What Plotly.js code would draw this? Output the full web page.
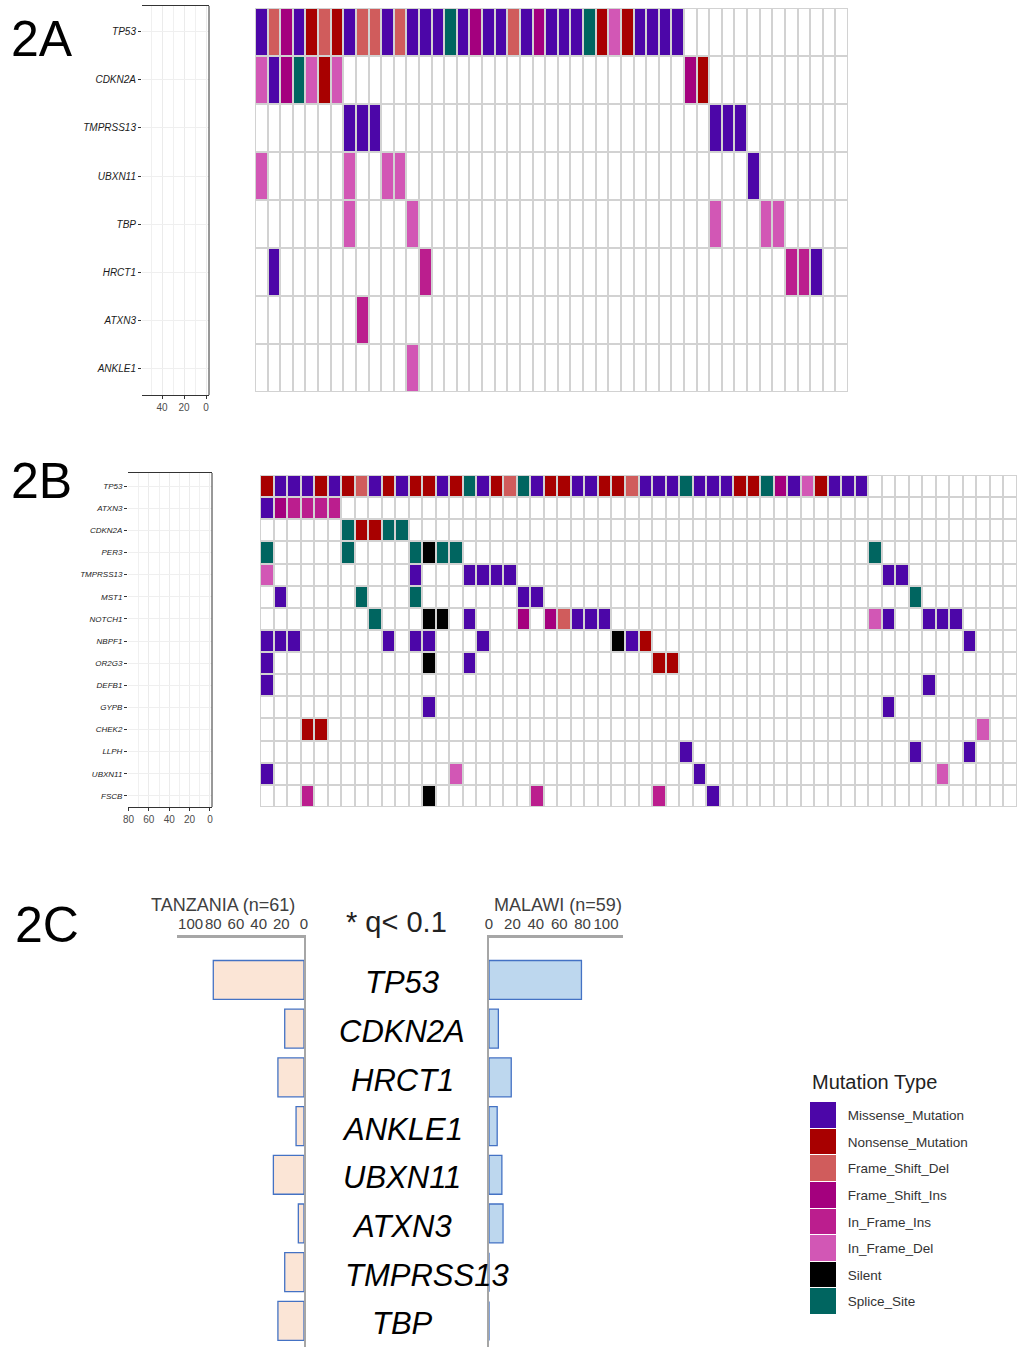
<!DOCTYPE html>
<html><head><meta charset="utf-8">
<script src="https://cdn.plot.ly/plotly-3.0.1.min.js"></script>
<style>html,body{margin:0;padding:0;background:#fff;}#chart{width:1018px;height:1347px;}</style>
</head><body><div id="chart"></div>
<script>
// ---------------- data ----------------
const mutationTypes = ['Missense_Mutation','Nonsense_Mutation','Frame_Shift_Del','Frame_Shift_Ins','In_Frame_Ins','In_Frame_Del','Silent','Splice_Site'];
const typeCodes = ['M','N','F','I','i','d','S','P'];   // '.' = no mutation
const typeColors = ['#4C06A8','#A80000','#D05C5C','#A4007E','#BB1E8E','#D257B5','#000000','#006560'];

// 2A (one character per sample, '|' every 10 samples)
const genesA = ['TP53','CDKN2A','TMPRSS13','UBXN11','TBP','HRCT1','ATXN3','ANKLE1'];
const mutsA = [
  'MFIMNFNMFF|MFMMMPMIMM|FMIMMMPNdN|MMMM......|.......',
  'dMIPdNd...|..........|..........|....IN....|.......',
  '.......MMM|..........|..........|......MMM.|.......',
  'd......d..|dd........|..........|.........M|.......',
  '.......d..|..d.......|..........|......d...|dd.....',
  '.M........|...i......|..........|..........|..iiM..',
  '........i.|..........|..........|..........|.......',
  '..........|..d.......|..........|..........|.......'
];
const sideBarsA = [0,0,0,0,0,0,0,0];
const sideTicksA = [0,20,40];

// 2B
const genesB = ['TP53','ATXN3','CDKN2A','PER3','TMPRSS13','MST1','NOTCH1','NBPF1','OR2G3','DEFB1','GYPB','CHEK2','LLPH','UBXN11','FSCB'];
const mutsB = [
  'NMMMNMNFMN|MNNMNPMNFP|MNNMMNNFMM|MPMMMNNPIM|dNMMM.....|......',
  'MIiiii....|..........|..........|..........|..........|......',
  '......PNNP|P.........|..........|..........|..........|......',
  'P.....P...|.PSPP.....|..........|..........|.....P....|......',
  'd.........|.M...MMMM.|..........|..........|......MM..|......',
  '.M.....P..|.P.......M|M.........|..........|........P.|......',
  '........P.|..SS.M...I|.IFMMM....|..........|.....dM..M|MM....',
  'MMM......M|.MM...M...|......SMN.|..........|..........|..M...',
  'M.........|..S..M....|.........N|N.........|..........|......',
  'M.........|..........|..........|..........|.........M|......',
  '..........|..M.......|..........|..........|......M...|......',
  '...NN.....|..........|..........|..........|..........|...d..',
  '..........|..........|..........|.M........|........M.|..M...',
  'M.........|....d.....|..........|..M.......|..........|d.....',
  '...i......|..S.......|i........i|...M......|..........|......'
];
const sideBarsB = [0,0,0,0,0,0,0,0,0,0,0,0,0,0,0];
const sideTicksB = [0,20,40,60,80];

// 2C
const genesC = ['TP53','CDKN2A','HRCT1','ANKLE1','UBXN11','ATXN3','TMPRSS13','TBP'];
const tanzaniaPct = [80,17,23,7,27,5,17,23];
const malawiPct   = [79,8,19,7,11,12,0,0];
const pctTicks = [0,20,40,60,80,100];

// ---------------- helpers ----------------
const W = 1018, H = 1347;
const FONT = 'Liberation Sans, Arial, sans-serif';
const dX = (a,b) => [a/W, b/W];
const dY = (top,bottom) => [1-bottom/H, 1-top/H];
const pxX = v => v/W, pxY = v => 1 - v/H;

function toZ(rows){
  return rows.map(s => s.replace(/\|/g,'').split('').map(ch => ch === '.' ? 0 : typeCodes.indexOf(ch) + 1));
}
const zA = toZ(mutsA), zB = toZ(mutsB);
const nA = zA[0].length, nB = zB[0].length;
const levelColors = ['#FFFFFF'].concat(typeColors);
const cs = [];
levelColors.forEach((c,k) => { cs.push([k/levelColors.length, c]); cs.push([(k+1)/levelColors.length, c]); });
const sampleIdx = n => Array.from({length:n}, (_,i) => i);

const hm = (z, y, xa, ya, gap) => ({
  type:'heatmap', z:z, x:sampleIdx(z[0].length), y:y, xaxis:xa, yaxis:ya,
  colorscale:cs, zmin:-0.5, zmax:levelColors.length-0.5, showscale:false,
  xgap:gap, ygap:gap, hoverinfo:'skip'
});

const traces = [
  {type:'bar', orientation:'h', x:sideBarsA, y:genesA, xaxis:'x', yaxis:'y', hoverinfo:'skip', marker:{color:'#888'}},
  hm(zA, genesA, 'x2', 'y2', 2),
  {type:'bar', orientation:'h', x:sideBarsB, y:genesB, xaxis:'x3', yaxis:'y3', hoverinfo:'skip', marker:{color:'#888'}},
  hm(zB, genesB, 'x4', 'y4', 2),
  {type:'bar', orientation:'h', x:tanzaniaPct, y:genesC, xaxis:'x5', yaxis:'y5', width:0.8, hoverinfo:'skip',
   marker:{color:'#FBE5D6', line:{color:'#4472C4', width:1.3}}},
  {type:'bar', orientation:'h', x:malawiPct, y:genesC, xaxis:'x6', yaxis:'y6', width:0.8, hoverinfo:'skip',
   marker:{color:'#BDD7EE', line:{color:'#4472C4', width:1.3}}},
  {type:'heatmap', z:mutationTypes.map((t,i)=>[i+1]), x:[0], y:mutationTypes, xaxis:'x7', yaxis:'y7',
   colorscale:cs, zmin:-0.5, zmax:levelColors.length-0.5, showscale:false, ygap:1, hoverinfo:'skip'}
];

const sideX = (dom, anchor, range, ticks, minorTicks) => ({
  domain:dom, anchor:anchor, range:range, showline:true, mirror:true, linecolor:'#333', linewidth:1,
  ticks:'outside', ticklen:3, tickcolor:'#333', tickmode:'array', tickvals:ticks, ticktext:ticks.map(String), tickangle:0,
  tickfont:{size:10, color:'#4D4D4D'}, showgrid:true, gridcolor:'#EBEBEB', gridwidth:1, zeroline:false,
  minor:{tickmode:'array', tickvals:minorTicks, showgrid:true, gridcolor:'#F0F0F0', ticks:''}, fixedrange:true
});
const sideY = (dom, anchor, genes, range, fs) => ({
  domain:dom, anchor:anchor, type:'category', categoryorder:'array', categoryarray:genes, range:range,
  ticks:'outside', ticklen:3, tickcolor:'#333', tickfont:{size:fs, style:'italic', color:'#1a1a1a'},
  showgrid:true, gridcolor:'#EFEFEF', showline:false, zeroline:false, fixedrange:true
});
const hidden = (dom, anchor, range, extra) => Object.assign({domain:dom, anchor:anchor, range:range, visible:false, fixedrange:true}, extra||{});
const pctAxis = (dom, anchor, range) => ({
  domain:dom, anchor:anchor, range:range, side:'top', showline:true, linecolor:'#A6A6A6', linewidth:3,
  tickmode:'array', tickvals:pctTicks, ticktext:pctTicks.map(String), ticks:'', tickangle:0,
  tickfont:{size:15, color:'#404040'}, showgrid:false, zeroline:false, fixedrange:true
});

const layout = {
  width:W, height:H, margin:{l:0,r:0,t:0,b:0}, paper_bgcolor:'#fff', plot_bgcolor:'#fff', showlegend:false,
  font:{family:FONT, color:'#222'}, bargap:0.2,
  // 2A
  xaxis: sideX(dX(142,209), 'y', [58.2,-2.7], sideTicksA, [10,30,50]),
  yaxis: sideY(dY(6,395), 'x', genesA, [7.56,-0.54], 10),
  xaxis2: hidden(dX(255,848), 'y2', [-0.5, nA-0.5]),
  yaxis2: hidden(dY(8,392), 'x2', [genesA.length-0.5, -0.5], {type:'category', categoryorder:'array', categoryarray:genesA}),
  // 2B
  xaxis3: sideX(dX(128,212), 'y3', [80.5,-2], sideTicksB, [10,30,50,70]),
  yaxis3: sideY(dY(473,807), 'x3', genesB, [14.5,-0.59], 8),
  xaxis4: hidden(dX(260,1017), 'y4', [-0.5, nB-0.5]),
  yaxis4: hidden(dY(475,807), 'x4', [genesB.length-0.5, -0.5], {type:'category', categoryorder:'array', categoryarray:genesB}),
  // 2C
  xaxis5: pctAxis(dX(177,304), 'y5', [112,0]),
  yaxis5: {domain:dY(938,1347), anchor:'x5', type:'category', categoryorder:'array', categoryarray:genesC, range:[7.536,-0.862],
           side:'right', showline:true, linecolor:'#A6A6A6', linewidth:2, showticklabels:false, ticks:'', showgrid:false, zeroline:false, fixedrange:true},
  xaxis6: pctAxis(dX(489,623), 'y6', [0,114.5]),
  yaxis6: {domain:dY(938,1347), anchor:'x6', type:'category', categoryorder:'array', categoryarray:genesC, range:[7.536,-0.862],
           side:'left', showline:true, linecolor:'#A6A6A6', linewidth:2, showticklabels:false, ticks:'', showgrid:false, zeroline:false, fixedrange:true},
  // legend swatches
  xaxis7: hidden(dX(810,836), 'y7', [-0.5,0.5]),
  yaxis7: {domain:dY(1102,1315), anchor:'x7', type:'category', categoryorder:'array', categoryarray:mutationTypes, range:[7.5,-0.5],
           side:'right', ticks:'outside', ticklen:8, tickcolor:'rgba(0,0,0,0)', showline:false, showgrid:false, zeroline:false,
           tickfont:{size:13.5, color:'#333'}, fixedrange:true},
  shapes:[
    {type:'rect', xref:'x2 domain', yref:'y2 domain', x0:0, x1:1, y0:0, y1:1, fillcolor:'#D2D2D2', line:{width:0}, layer:'below'},
    {type:'rect', xref:'x4 domain', yref:'y4 domain', x0:0, x1:1, y0:0, y1:1, fillcolor:'#D2D2D2', line:{width:0}, layer:'below'},
    {type:'line', xref:'x domain', yref:'y domain', x0:1, x1:1, y0:0, y1:1, line:{color:'#333', width:1}},
    {type:'line', xref:'x3 domain', yref:'y3 domain', x0:1, x1:1, y0:0, y1:1, line:{color:'#333', width:1}}
  ],
  annotations:[
    {text:'2A', xref:'paper', yref:'paper', x:pxX(9), y:pxY(39), xanchor:'left', yanchor:'middle', showarrow:false, font:{size:50, color:'#000'}},
    {text:'2B', xref:'paper', yref:'paper', x:pxX(9), y:pxY(481), xanchor:'left', yanchor:'middle', showarrow:false, font:{size:50, color:'#000'}},
    {text:'2C', xref:'paper', yref:'paper', x:pxX(13), y:pxY(925), xanchor:'left', yanchor:'middle', showarrow:false, font:{size:50, color:'#000'}},
    {text:'TANZANIA (n=61)', xref:'paper', yref:'paper', x:pxX(223), y:pxY(905), xanchor:'center', yanchor:'middle', showarrow:false, font:{size:18, color:'#404040'}},
    {text:'MALAWI (n=59)', xref:'paper', yref:'paper', x:pxX(558), y:pxY(905), xanchor:'center', yanchor:'middle', showarrow:false, font:{size:18, color:'#404040'}},
    {text:'* q< 0.1', xref:'paper', yref:'paper', x:pxX(396), y:pxY(922), xanchor:'center', yanchor:'middle', showarrow:false, font:{size:29, color:'#222'}},
    {text:'Mutation Type', xref:'paper', yref:'paper', x:pxX(810), y:pxY(1082), xanchor:'left', yanchor:'middle', showarrow:false, font:{size:20, color:'#222'}}
  ].concat(genesC.map(g => ({
    text:g, xref:'paper', yref:'y5', x: g.length > 7 ? pxX(343) : pxX(402), y:g, yshift:-3,
    xanchor: g.length > 7 ? 'left' : 'center', yanchor:'middle', showarrow:false,
    font:{size:31, style:'italic', color:'#000'}
  })))
};

Plotly.newPlot('chart', traces, layout, {displayModeBar:false, staticPlot:true});
</script>
</body></html>
